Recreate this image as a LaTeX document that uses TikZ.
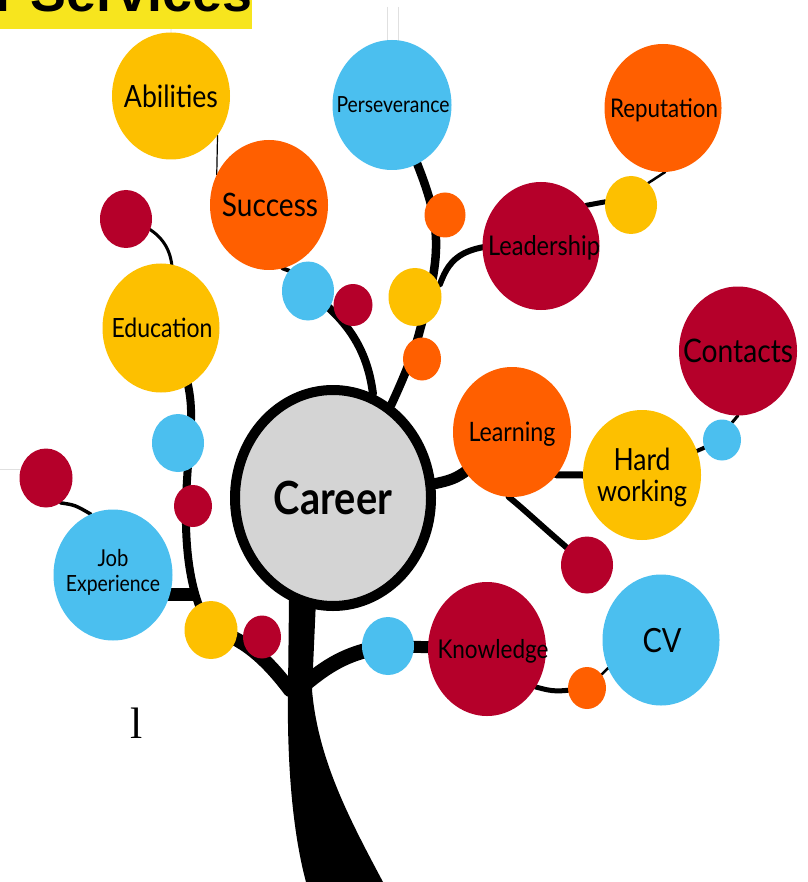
\documentclass[tikz,border=0pt]{standalone}
\usepackage{fontspec}
\setmainfont{Lato}
\newfontfamily\banfont{Liberation Sans}
\newfontfamily\tnrfont{Liberation Serif}
\usepackage{graphicx}
\usetikzlibrary{shapes.geometric,backgrounds}
\definecolor{cy}{HTML}{FDC000}
\definecolor{co}{HTML}{FF5F00}
\definecolor{cr}{HTML}{B5002A}
\definecolor{cb}{HTML}{4BBFEF}
\definecolor{cg}{HTML}{D4D4D4}
\definecolor{ban}{HTML}{F7E51E}
\newcommand\sx[2]{\scalebox{1}[1.15]{\resizebox{#1pt}{!}{#2}}}
\newcommand\tx[3][0]{\makebox[0pt]{\hspace{#1pt}\smash{\raisebox{-.5\height}{\sx{#2}{#3}}}}}
\newcommand\txx[6]{\makebox[0pt]{\smash{\raisebox{#6pt}{\begin{tabular}{@{}c@{}}\sx{#1}{#2}\\[#5pt]\sx{#3}{#4}\end{tabular}}}}}
\tikzset{
  bub/.style n args={3}{ellipse, inner sep=0pt, outer sep=0pt, minimum width=#1pt, minimum height=#2pt, fill=#3, text=black},
  br/.style={draw=black, line cap=round},
  faint/.style={draw=black!12, line width=0.8pt},
}
\begin{document}
\begin{tikzpicture}[x=1pt,y=-1pt]
\useasboundingbox (0,0) rectangle (807,882);
% banner
\fill[ban] (0,0) rectangle (252,29);
\node[anchor=base west, inner sep=0pt] (banner) at (-5,12) {\resizebox{257pt}{!}{\banfont\bfseries r Services}};
% bubbles
\node[bub={118}{127}{cy}] (abilities) at (171,96) {\tx{94}{Abilities}};
\node[bub={119}{130}{cb}] (persev) at (392,105) {\tx[2]{113}{Perseverance}};
\node[bub={117}{128}{co}] (reputation) at (663,108) {\tx[2]{108}{Reputation}};
\node[bub={118}{130}{co}] (success) at (269,205) {\tx[2]{96}{Success}};
\node[bub={52}{58}{cr}] (redA) at (126,219) {};
\node[bub={117}{129}{cy}] (education) at (161,328) {\tx[2]{101}{Education}};
\node[bub={52}{59}{cb}] (blueS) at (308,291) {};
\node[bub={39}{42}{cr}] (redS) at (353,305) {};
\node[bub={41}{45}{co}] (orangeP) at (445,215) {};
\node[bub={53}{58}{cy}] (yellowM) at (415,297) {};
\node[bub={38}{43}{co}] (orangeM) at (422,359) {};
\node[bub={117}{128}{cr}] (leadership) at (541,246) {\tx[6]{112}{Leadership}};
\node[bub={52}{58}{cy}] (yellowR) at (631,205) {};
\node[bub={118}{129}{cr}] (contacts) at (738,351) {\tx{110}{Contacts}};
\node[bub={38}{41}{cb}] (blueC) at (722,440) {};
\node[bub={118}{130}{cy}] (hardw) at (642,475) {\txx{57}{Hard}{90}{working}{6}{-5}};
\node[bub={118}{130}{co}] (learning) at (512,432) {\tx{87}{Learning}};
\node[bub={52}{57}{cr}] (redLr) at (587,565) {};
\node[bub={117}{131}{cb}] (cv) at (661,640) {\tx[2]{39}{CV}};
\node[bub={38}{42}{co}] (orangeCV) at (587,688) {};
\node[bub={118}{134}{cr}] (knowledge) at (487,649) {\tx[12]{111}{Knowledge}};
\node[bub={52}{58}{cb}] (blueK) at (388,646) {};
\node[bub={38}{43}{cr}] (redB) at (262,637) {};
\node[bub={53}{58}{cy}] (yellowB) at (211,630) {};
\node[bub={119}{131}{cb}] (jobexp) at (113,575) {\txx{31}{Job}{94}{Experience}{5}{0}};
\node[bub={53}{59}{cr}] (redJ) at (46,478) {};
\node[bub={52}{58}{cb}] (blueL) at (178,443) {};
\node[bub={38}{42}{cr}] (redL) at (193,506) {};
\node[ellipse, draw=black, line width=10pt, fill=cg, inner sep=0pt, minimum width=196pt, minimum height=216pt] (career) at (333,498) {\tx{118}{\bfseries Career}};
% stray letter
\node[anchor=base, inner sep=0pt, font=\tnrfont\fontsize{44}{44}\selectfont] (ell) at (137,738) {l};
% coordinates
\coordinate (trL) at (290,690);
\coordinate (trR) at (305,684);
\coordinate (jbj) at (198,594);
\coordinate (ldb) at (440,284);
\begin{scope}[on background layer]
\fill[white] (0,0) rectangle (807,882);
% faint guide lines
\draw[faint] (172,0) -- (abilities.north);
\draw[faint] (387,7) -- (387,42);
\draw[faint] (398,7) -- (398,42);
\draw[faint] (0,469) -- (20,469);
% trunk
\fill[black] (289,600) -- (288,690) .. controls (287,760) and (292,830) .. (306,882) -- (383,882) .. controls (350,820) and (318,760) .. (312,690) -- (316,600) -- cycle;
% lower branches
\draw[br, line width=14pt] (yellowB.center) .. controls (235,635) and (260,650) .. (trL);
\draw[br, line width=15pt] (trR) .. controls (325,668) and (345,652) .. (blueK.center);
\draw[br, line width=12pt] (blueK.center) -- (knowledge.center);
% left vertical branch
\draw[br, line width=8pt] (education.center) .. controls (185,360) and (192,390) .. (191,420) .. controls (189,460) and (185,490) .. (186,525) .. controls (187,570) and (195,605) .. (yellowB.center);
\draw[line width=13pt] (jobexp.center |- jbj) -- (jbj);
\draw[br, line width=3.5pt] (redJ.-60) .. controls (75,505) .. (jobexp.110);
\draw[br, line width=3pt] (redA.center) .. controls (170,232) and (185,260) .. (education.center);
% upper left
\draw[line width=1.2pt] (abilities.-40) -- (success.150);
\draw[br, line width=4pt] (success.-78) -- (blueS.133);
\draw[br, line width=8pt] (career.69) .. controls (368,355) and (352,322) .. (blueS.center);
% upper right
\draw[br, line width=8.5pt] (career.58) .. controls (405,375) and (415,350) .. (420,330) .. controls (428,300) and (437,270) .. (436,240) .. controls (435,210) and (428,185) .. (persev.center);
\draw[br, line width=6pt] (yellowM.center) -- (ldb) .. controls (450,258) and (462,240) .. (leadership.center);
\draw[br, line width=5pt] (leadership.42) -- (yellowR.173);
\draw[br, line width=2.5pt] (yellowR.52) -- (reputation.-88);
% right
\draw[br, line width=11pt] (career.8) .. controls (460,478) .. (learning.center);
\draw[br, line width=7pt] (learning.-44) -- (hardw.180);
\draw[br, line width=6pt] (learning.-93) .. controls (525,510) and (540,525) .. (redLr.center);
\draw[br, line width=4pt] (hardw.center) -- (blueC.center);
\draw[br, line width=3pt] (blueC.60) -- (contacts.-90);
\draw[br, line width=5pt] (knowledge.-38) .. controls (555,692) .. (orangeCV.center);
\draw[br, line width=2.5pt] (orangeCV.43) -- (cv.-152);
\end{scope}
\end{tikzpicture}
\end{document}
